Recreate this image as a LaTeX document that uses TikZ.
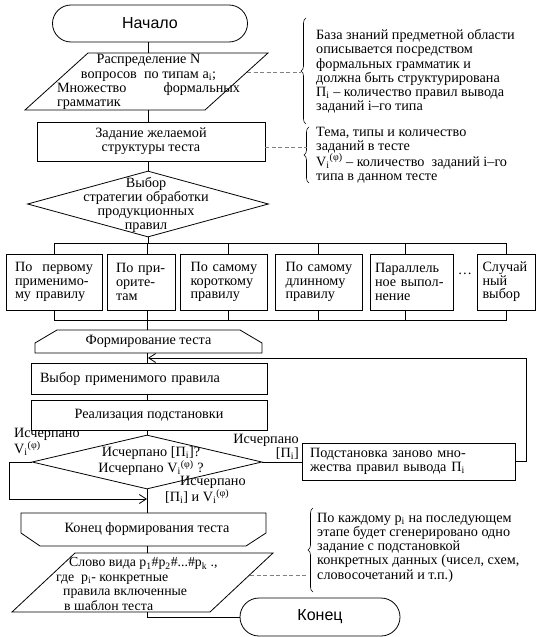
\documentclass[tikz,border=0pt]{standalone}
\usepackage{fontspec}
\setmainfont{Liberation Serif}
\newfontfamily\sansfam{Liberation Sans}
\usetikzlibrary{shapes.geometric,shapes.misc,arrows.meta,decorations.pathreplacing,shadows}
\newcommand\Vif{V\textsubscript{i}\textsuperscript{(φ)}}
\newcommand\Pii{Π\textsubscript{i}}
\begin{document}
\begin{tikzpicture}[x=1pt,y=-1pt,
  every node/.style={inner sep=0pt, font=\fontsize{14.2}{14.2}\selectfont},
  ln/.style={line width=0.8pt},
  box/.style={draw, line width=0.8pt, fill=white},
  shbox/.style={box, drop shadow={shadow xshift=1.3pt, shadow yshift=-1.3pt, opacity=1, fill=black}},
  sbox/.style={minimum height=56pt, align=left, font=\fontsize{14.2}{13.6}\selectfont},
  term/.style={draw, line width=0.8pt, rounded rectangle, font=\sansfam\fontsize{16}{18}\selectfont},
  dsh/.style={draw=gray, line width=0.8pt, dash pattern=on 4pt off 2.5pt},
  brc/.style={draw, line width=0.6pt, decorate, decoration={brace, amplitude=5pt}},
  arr/.style={line width=0.8pt, -{Straight Barb[length=7pt, width=9pt]}},
  note/.style={align=left, anchor=west}
]
\useasboundingbox (0,0) rectangle (543,637);

% start
\node[term, minimum width=195pt, minimum height=37pt] (start) at (150,23.5) {Начало};

% parallelogram 1
\coordinate (p1n) at (148,53);
\coordinate (p1s) at (148,110);
\coordinate (p1e) at (247,72);
\draw[ln] (88,53) -- (268,53) -- (205,110) -- (25,110) -- cycle;
\node[align=left] (p1) at (148.5,82) {\makebox[183pt]{Распределение N}\\ \makebox[183pt]{вопросов\ \ по типам a\textsubscript{i};}\\ \makebox[183pt][s]{Множество\hfill формальных}\\ грамматик};
\draw[ln] (p1n |- start.south) -- (p1n);

% note 1
\coordinate (b1tip) at (301,72);
\draw[brc] (306,124) -- (306,18);
\draw[dsh] (p1e) -- (b1tip);
\node[note] (n1) at (316,71.5) {База знаний предметной области\\описывается посредством\\формальных грамматик и\\должна быть структурирована\\\Pii\ – количество правил вывода\\заданий i–го типа};

% zadanie
\node[box, minimum width=228pt, minimum height=39pt, align=center] (zad) at (151,141.5) {Задание желаемой\\структуры теста};
\draw[ln] (p1s) -- (p1s |- zad.north);

% note 2
\coordinate (b2tip) at (307,147);
\draw[brc] (309,183) -- (309,127);
\draw[dsh] ([yshift=-5.5pt]zad.east) -- (b2tip);
\node[note] (n2) at (316,155) {Тема, типы и количество\\заданий в тесте\\\Vif\ – количество\ \ заданий i–го\\типа в данном тесте};

% diamond 1
\node[draw, ln, diamond, minimum width=241pt, minimum height=66pt] (d1) at (148,204) {};
\node[align=center] (d1t) at (146,205) {Выбор\\стратегии обработки\\продукционных\\правил};
\draw[ln] (zad.south -| d1.north) -- (d1.north);

% strategies
\coordinate (bus) at (147,243);
\coordinate (bbus) at (147,320);
\node[box, sbox, text width=78pt, inner xsep=9pt] (s1) at (54,282) {По\hfill первому\\применимо-\\му~правилу};
\node[box, sbox, text width=50pt, inner xsep=9pt] (s2) at (141,282) {По~при-\\орите-\\там};
\node[shbox, sbox, text width=66pt, inner xsep=10.5pt] (s3) at (223.5,282) {По~самому\\короткому\\правилу};
\node[shbox, sbox, text width=66pt, inner xsep=10.5pt] (s4) at (318.5,282) {По~самому\\длинному\\правилу};
\node[box, sbox, text width=73pt, inner xsep=5pt] (s5) at (411.5,282) {Параллель\\ное~выпол-\\нение};
\node (dots) at (465,274) {…};
\node[box, sbox, text width=47pt, inner xsep=5.5pt] (s6) at (506,282) {Случай\\ный\\выбор};

\draw[ln] (d1.south) -- (d1.south |- bus);
\draw[ln] (s1.north) -- (s1.north |- bus) -- (s6.north |- bus) -- (s6.north);
\draw[ln] (bus) -- (bus |- s2.north);
\draw[ln] ([xshift=4.5pt]s3.north) -- ([xshift=4.5pt]s3.north |- bus);
\draw[ln] (s4.north) -- (s4.north |- bus);
\draw[ln] ([xshift=-6.5pt]s5.north) -- ([xshift=-6.5pt]s5.north |- bus);

\draw[ln] (s1.south) -- (s1.south |- bbus) -- (s6.south |- bbus) -- (s6.south);
\draw[ln] (bbus |- s2.south) -- (bbus);
\draw[ln] ([xshift=4.5pt]s3.south) -- ([xshift=4.5pt]s3.south |- bbus);
\draw[ln] (s4.south) -- (s4.south |- bbus);
\draw[ln] ([xshift=-6.5pt]s5.south) -- ([xshift=-6.5pt]s5.south |- bbus);

% loop start
\coordinate (fn) at (147,330);
\coordinate (fs) at (147,353);
\draw[ln] (35,353) -- (35,343) -- (57,330) -- (240,330) -- (262,343) -- (262,353) -- cycle;
\node (form) at (148.5,341) {Формирование теста};
\draw[ln] (bbus) -- (fn);

% boxes
\node[box, minimum height=31pt, text width=218pt, inner xsep=9pt, align=left] (vyb) at (149,378.5) {Выбор применимого правила};
\draw[ln] (fs) -- (fs |- vyb.north);
\node[shbox, minimum width=236pt, minimum height=30pt] (real) at (149,415) {Реализация подстановки};
\draw[ln] (vyb.south -| fs) -- (real.north -| fs);

% diamond 2
\node[draw, ln, diamond, minimum width=230pt, minimum height=54pt] (d2) at (147,462) {};
\node[align=center] (d2t) at (151,461) {Исчерпано [\Pii]?\\Исчерпано \Vif\ ?};
\draw[ln] (real.south -| d2.north) -- (d2.north);

\node[shbox, minimum height=37pt, text width=197pt, inner xsep=8pt, align=left] (sub) at (408.5,461.5) {Подстановка заново мно-\\жества правил вывода \Pii};
\draw[ln] (d2.east) -- (d2.east -| sub.west);

\coordinate (loopin) at (148,358);
\coordinate (rr) at (526,358);
\draw[arr] (sub.east) -| (rr) -- (loopin);

\coordinate (loopout) at (147,499);
\draw[arr] (d2.west) -- ++(-22,0) |- (loopout);

\node[align=left, anchor=north west] (lab1) at (14,428) {Исчерпано\\\Vif};
\node[align=right, anchor=north east] (lab2) at (299,434) {Исчерпано\\{}[\Pii]};
\node[align=left, anchor=north west] (lab3) at (165,476) {\hspace*{15pt}Исчерпано\\{}[\Pii] и \Vif};

% loop end
\coordinate (kfn) at (147,513);
\coordinate (kfs) at (147,546);
\draw[ln] (21,513) -- (266,513) -- (266,533) -- (246,546) -- (40,546) -- (21,533) -- cycle;
\node (kft) at (147,529) {Конец формирования теста};
\draw[ln] (d2.south) -- (kfn);

% parallelogram 2
\coordinate (p2n) at (147,553);
\coordinate (p2s) at (147,612);
\coordinate (p2e) at (250,575);
\draw[ln] (75,553) -- (273,553) -- (210,612) -- (12,612) -- cycle;
\draw[ln] (kfs) -- (p2n);
\node[align=left, anchor=west, font=\fontsize{13.8}{14.4}\selectfont] (p2t) at (56,584) {\hspace*{13pt}Слово вида p\textsubscript{1}\#p\textsubscript{2}\#...\#p\textsubscript{k} .,\\где\ \ p\textsubscript{i}- конкретные\\\hspace*{7pt}правила включенные\\\hspace*{8pt}в шаблон теста};

% note 3
\coordinate (b3tip) at (308,575);
\draw[brc] (313,592) -- (313,508);
\draw[dsh] (p2e) -- (b3tip);
\node[note] (n3) at (317,547.5) {По каждому p\textsubscript{i} на последующем\\этапе будет сгенерировано одно\\задание с подстановкой\\конкретных данных (чисел, схем,\\словосочетаний и т.п.)};

% end
\node[term, minimum width=160pt, minimum height=38pt] (end) at (320,617) {Конец};
\draw[ln] (p2s) |- (end.west);
\end{tikzpicture}
\end{document}
